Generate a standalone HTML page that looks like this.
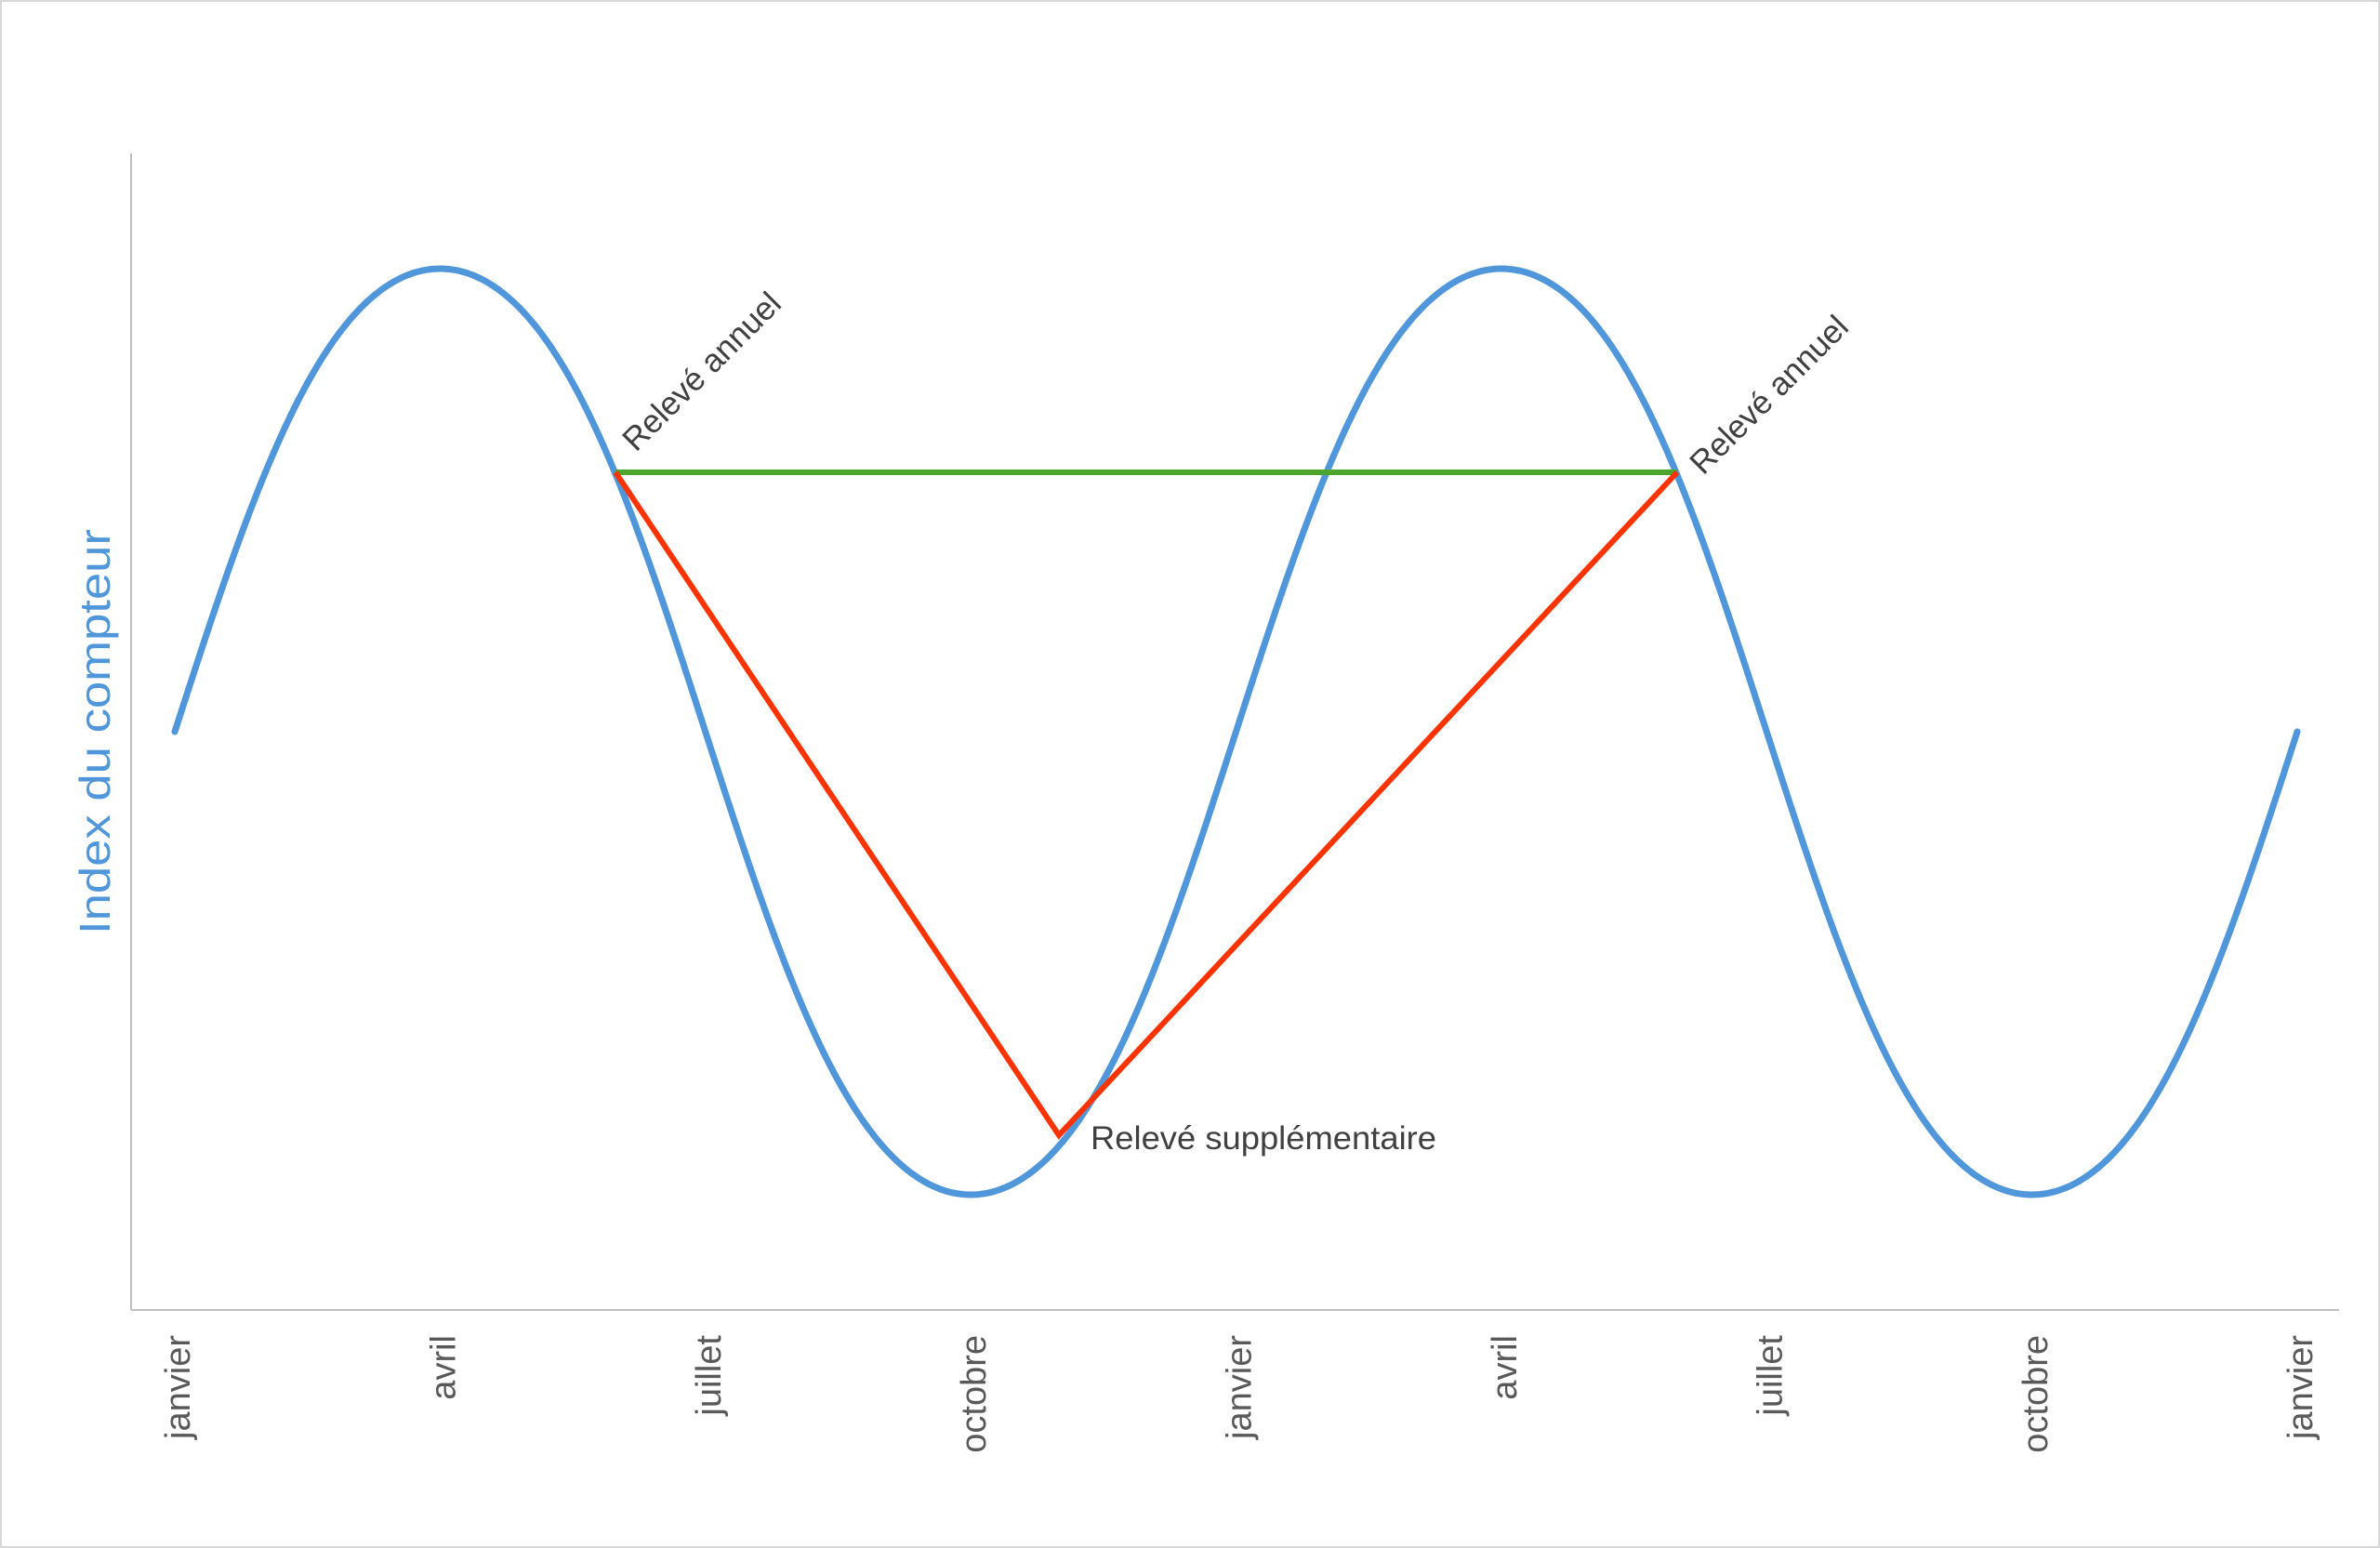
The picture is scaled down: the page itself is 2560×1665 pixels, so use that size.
<!DOCTYPE html>
<html><head><meta charset="utf-8"><style>
html,body{margin:0;padding:0;background:#fff}
svg{display:block}
text{font-family:"Liberation Sans",sans-serif}
</style></head><body>
<svg id="s" width="2560" height="1665" viewBox="0 0 2560 1665" xmlns="http://www.w3.org/2000/svg">
<rect x="1" y="1" width="2558" height="1663" fill="#fff" stroke="#d9d9d9" stroke-width="2"/>
<line x1="141" y1="165" x2="141" y2="1409" stroke="#bfbfbf" stroke-width="2"/>
<line x1="141" y1="1409" x2="2516" y2="1409" stroke="#bfbfbf" stroke-width="2"/>
<polyline id="curve" fill="none" stroke="#4f96da" stroke-width="7" stroke-linecap="round" stroke-linejoin="round" points=""/>
<line x1="662" y1="508" x2="1804" y2="508" stroke="#4ea52e" stroke-width="6"/>
<polyline points="662,508 1139,1221 1804,508" fill="none" stroke="#ff3300" stroke-width="6" stroke-linejoin="miter"/>
<text transform="translate(118,1005) rotate(-90)" font-size="46" fill="#4f96da" textLength="436" lengthAdjust="spacingAndGlyphs">Index du compteur</text>
<g font-size="38" fill="#595959" id="ticks"></g>
<text transform="translate(684,487) rotate(-45)" font-size="35" fill="#404040">Relevé annuel</text>
<text transform="translate(1832,512) rotate(-45)" font-size="35" fill="#404040">Relevé annuel</text>
<text x="1173" y="1236" font-size="35" fill="#404040" textLength="372" lengthAdjust="spacingAndGlyphs">Relevé supplémentaire</text>
</svg>
<script>
var pts=[];for(var x=188;x<=2471;x+=3){var p=(x-188)/1141.5*2*Math.PI;var c=Math.cos(p);var v=Math.sin(p)*(1+0.13*c*c);pts.push(x+","+(787-498*v).toFixed(1));}
pts.push("2471,787");
document.getElementById("curve").setAttribute("points",pts.join(" "));
var names=["janvier","avril","juillet","octobre","janvier","avril","juillet","octobre","janvier"];
var g=document.getElementById("ticks"),ns="http://www.w3.org/2000/svg";
names.forEach(function(n,i){var t=document.createElementNS(ns,"text");var x=188+i*285.4+16;
t.setAttribute("transform","translate("+x+",1436) rotate(-90)");t.setAttribute("text-anchor","end");t.textContent=n;g.appendChild(t);});
</script>
</body></html>
